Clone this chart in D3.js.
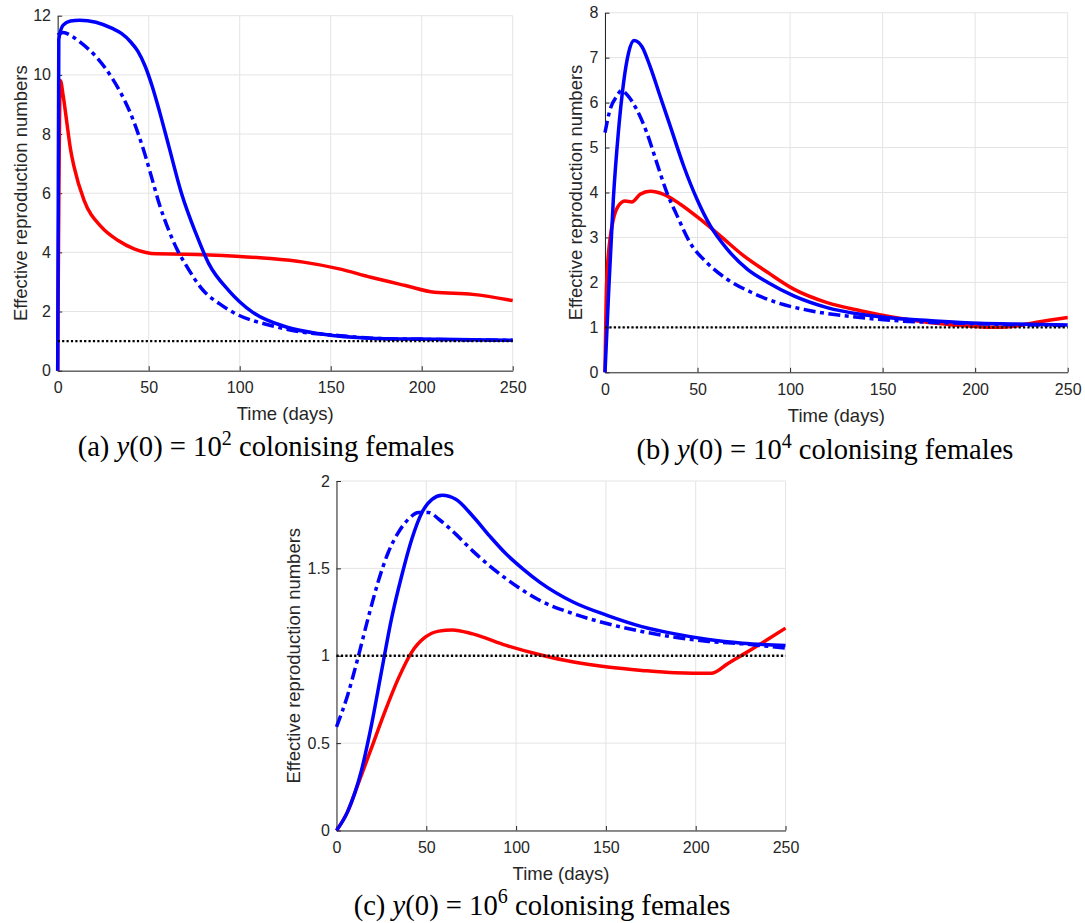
<!DOCTYPE html>
<html><head><meta charset="utf-8">
<script src="https://cdn.jsdelivr.net/npm/d3@7"></script>
<style>body{margin:0;background:#fff} svg{display:block}</style>
</head><body>
<svg id="chart" width="1085" height="923"></svg>
<script>
// ---------- data ----------
const xTicks = [0, 50, 100, 150, 200, 250];
const yTicksA = [0, 2, 4, 6, 8, 10, 12];
const yTicksB = [0, 1, 2, 3, 4, 5, 6, 7, 8];
const yTicksC = [0, 0.5, 1, 1.5, 2];
const threshold = 1;

// Panel (a): y(0) = 10^2
const tA_blue = [0, 0.6, 3, 7, 12, 21, 30, 35, 40, 44, 48, 52, 56, 61, 68, 76, 83, 94, 107, 126, 145, 172, 210, 250];
const vA_blue = [0, 11.2, 11.68, 11.82, 11.85, 11.78, 11.57, 11.4, 11.12, 10.8, 10.3, 9.6, 8.75, 7.6, 6.0, 4.63, 3.62, 2.71, 1.98, 1.47, 1.24, 1.10, 1.06, 1.03];
const tA_dash = [0, 3, 8, 12, 21, 30, 35, 40, 44, 48, 52, 56, 61, 66, 70, 80, 89, 98, 117, 135, 154, 172, 200, 250];
const vA_dash = [11.35, 11.43, 11.3, 11.12, 10.62, 9.88, 9.35, 8.7, 8.05, 7.3, 6.45, 5.6, 4.75, 4.05, 3.62, 2.71, 2.26, 1.92, 1.53, 1.30, 1.19, 1.10, 1.06, 1.03];
const tA_red = [0, 1.5, 3, 5, 7, 9, 14.5, 24, 33, 42, 54.5, 70, 98, 117, 135, 154, 172, 191, 207, 228, 250];
const vA_red = [0, 9.8, 9.3, 8.4, 7.5, 6.89, 5.76, 4.86, 4.41, 4.12, 3.95, 3.94, 3.87, 3.79, 3.67, 3.45, 3.16, 2.88, 2.65, 2.58, 2.37];

// Panel (b): y(0) = 10^4
const tB_blue = [0, 1.8, 4.5, 7.2, 10, 12.7, 15.7, 19.9, 24.4, 29.8, 35.3, 42.5, 49.7, 57, 66, 77, 88, 102, 120, 138, 156.5, 175, 202, 229, 250];
const vB_blue = [0, 1.63, 3.85, 5.33, 6.43, 7.10, 7.38, 7.25, 6.80, 6.14, 5.47, 4.59, 3.85, 3.25, 2.74, 2.29, 2.00, 1.70, 1.44, 1.29, 1.20, 1.15, 1.09, 1.07, 1.05];
const tB_dash = [0, 2.7, 6.3, 9, 11.8, 17.2, 22.6, 28, 33.5, 39, 46, 55, 66, 79, 93, 111, 129, 156.5, 193, 250];
const vB_dash = [5.33, 5.84, 6.14, 6.27, 6.18, 5.84, 5.33, 4.66, 3.99, 3.48, 2.88, 2.44, 2.07, 1.78, 1.55, 1.37, 1.26, 1.15, 1.09, 1.04];
const tB_red = [0, 0.9, 2.7, 4.5, 7.2, 10.9, 14.5, 19, 24.4, 31.7, 40.7, 51.6, 62.4, 75, 88, 102, 120, 138, 156.5, 175, 193, 209, 220, 232.5, 250];
const vB_red = [0, 2.0, 2.96, 3.40, 3.70, 3.81, 3.79, 3.96, 4.03, 3.96, 3.74, 3.40, 3.03, 2.59, 2.22, 1.85, 1.55, 1.37, 1.22, 1.11, 1.04, 1.00, 1.02, 1.11, 1.22];

// Panel (c): y(0) = 10^6
const tC_blue = [0, 6.2, 13.7, 19.4, 25, 30.6, 36.3, 41.9, 47.6, 53.2, 58.8, 66.4, 75.8, 85.2, 94.5, 103.9, 113.3, 132, 151, 170, 188.5, 207, 226, 250];
const vC_blue = [0, 0.108, 0.336, 0.60, 0.907, 1.211, 1.458, 1.667, 1.82, 1.895, 1.918, 1.895, 1.80, 1.686, 1.582, 1.496, 1.42, 1.306, 1.23, 1.167, 1.125, 1.093, 1.072, 1.059];
const tC_dash = [0, 6.2, 11.8, 17.5, 23.1, 28.8, 34.4, 40, 45.7, 51.3, 57, 66.4, 75.8, 85.2, 94.5, 103.9, 113.3, 132, 151, 170, 188.5, 207, 226, 250];
const vC_dash = [0.593, 0.774, 0.983, 1.211, 1.42, 1.591, 1.705, 1.781, 1.82, 1.82, 1.781, 1.696, 1.60, 1.515, 1.44, 1.373, 1.316, 1.24, 1.183, 1.139, 1.106, 1.082, 1.068, 1.044];
const tC_red = [0, 6.2, 11.8, 19.4, 26.9, 34.4, 41.9, 49.4, 57, 64.5, 75.8, 94.5, 113.3, 132, 151, 170, 188.5, 209, 218, 226, 240, 250];
const vC_red = [0, 0.108, 0.26, 0.47, 0.679, 0.869, 1.021, 1.106, 1.141, 1.148, 1.125, 1.059, 1.006, 0.964, 0.935, 0.916, 0.903, 0.900, 0.956, 1.005, 1.093, 1.158];

const xLabel = "Time (days)";
const yLabel = "Effective reproduction numbers";
const captionLetters = ["a", "b", "c"];
const captionExps = ["2", "4", "6"];

// ---------- layout ----------
const panels = [
  {x0: 57.7, x1: 512.7, y0: 370.7, y1: 15.7, ymax: 12, yTicks: yTicksA, ylabX: 26.5, capX: 266, capY: 456,
   red: [tA_red, vA_red], blue: [tA_blue, vA_blue], dash: [tA_dash, vA_dash]},
  {x0: 605, x1: 1067.7, y0: 372.3, y1: 12.7, ymax: 8, yTicks: yTicksB, ylabX: 582, capX: 825, capY: 458.5,
   red: [tB_red, vB_red], blue: [tB_blue, vB_blue], dash: [tB_dash, vB_dash]},
  {x0: 336.5, x1: 785.5, y0: 830.5, y1: 481, ymax: 2, yTicks: yTicksC, ylabX: 299.5, capX: 542, capY: 914.5,
   red: [tC_red, vC_red], blue: [tC_blue, vC_blue], dash: [tC_dash, vC_dash]}
];

const svg = d3.select("#chart");
const axisColor = "#262626";
const gridColor = "#e4e4e4";
const sans = "'Liberation Sans', Arial, Helvetica, sans-serif";
const serif = "'Liberation Serif', 'Times New Roman', serif";

panels.forEach((p, i) => {
  const x = d3.scaleLinear().domain([0, 250]).range([p.x0, p.x1]);
  const y = d3.scaleLinear().domain([0, p.ymax]).range([p.y0, p.y1]);
  const g = svg.append("g");

  // grid
  g.append("g").selectAll("line.gx").data(xTicks).join("line")
    .attr("x1", d => x(d)).attr("x2", d => x(d)).attr("y1", p.y0).attr("y2", p.y1)
    .attr("stroke", gridColor).attr("stroke-width", 1);
  g.append("g").selectAll("line.gy").data(p.yTicks).join("line")
    .attr("y1", d => y(d)).attr("y2", d => y(d)).attr("x1", p.x0).attr("x2", p.x1)
    .attr("stroke", gridColor).attr("stroke-width", 1);

  // axes
  const ax = g.append("g").attr("transform", `translate(0,${p.y0})`)
    .call(d3.axisBottom(x).tickValues(xTicks).tickSizeInner(-4.5).tickSizeOuter(0).tickPadding(11).tickFormat(d3.format("d")));
  const ay = g.append("g").attr("transform", `translate(${p.x0},0)`)
    .call(d3.axisLeft(y).tickValues(p.yTicks).tickSizeInner(-4.5).tickSizeOuter(0).tickPadding(6.7).tickFormat(d => String(d)));
  [ax, ay].forEach(a => {
    a.select(".domain").attr("stroke", axisColor).attr("stroke-width", 1);
    a.selectAll(".tick line").attr("stroke", axisColor).attr("stroke-width", 1);
    a.selectAll(".tick text").attr("fill", axisColor).style("font-family", sans).style("font-size", "16px");
  });

  // labels
  g.append("text").attr("x", (p.x0 + p.x1) / 2).attr("y", p.y0 + 49.5)
    .attr("text-anchor", "middle").attr("fill", axisColor)
    .style("font-family", sans).style("font-size", "18.5px").text(xLabel);
  g.append("text").attr("transform", `translate(${p.ylabX},${(p.y0 + p.y1) / 2}) rotate(-90)`)
    .attr("text-anchor", "middle").attr("fill", axisColor)
    .style("font-family", sans).style("font-size", "18.5px").text(yLabel);

  // curves
  const line = d3.line().x(d => x(d[0])).y(d => y(d[1])).curve(d3.curveMonotoneX);
  const zip = (a) => a[0].map((t, k) => [t, a[1][k]]);
  g.append("path").attr("d", line(zip(p.red))).attr("fill", "none")
    .attr("stroke", "#ff0000").attr("stroke-width", 3.5).attr("stroke-linejoin", "round");
  g.append("path").attr("d", line(zip(p.blue))).attr("fill", "none")
    .attr("stroke", "#0000ff").attr("stroke-width", 3.5).attr("stroke-linejoin", "round");
  g.append("path").attr("d", line(zip(p.dash))).attr("fill", "none")
    .attr("stroke", "#0000ff").attr("stroke-width", 3.5).attr("stroke-dasharray", "12,4.5,4,4.5");
  g.append("path").attr("d", d3.line().x(d => x(d)).y(() => y(threshold))([0, 250])).attr("fill", "none")
    .attr("stroke", "#000").attr("stroke-width", 2.4).attr("stroke-dasharray", "2.2,2.2");

  // caption
  const cap = g.append("text").attr("x", p.capX).attr("y", p.capY).attr("text-anchor", "middle")
    .attr("fill", "#000").style("font-family", serif).style("font-size", "26px").style("white-space", "pre");
  cap.append("tspan").text(`(${captionLetters[i]}) `);
  cap.append("tspan").style("font-style", "italic").text("y");
  cap.append("tspan").text("(0) = 10");
  cap.append("tspan").attr("dy", "-0.55em").style("font-size", "0.7em").text(captionExps[i]);
  cap.append("tspan").attr("dy", "0.385em").text(" colonising females");
  const len = cap.node().getComputedTextLength();
  const fs = 26 * 377 / len;
  cap.style("font-size", fs + "px");
});
</script>
</body></html>
